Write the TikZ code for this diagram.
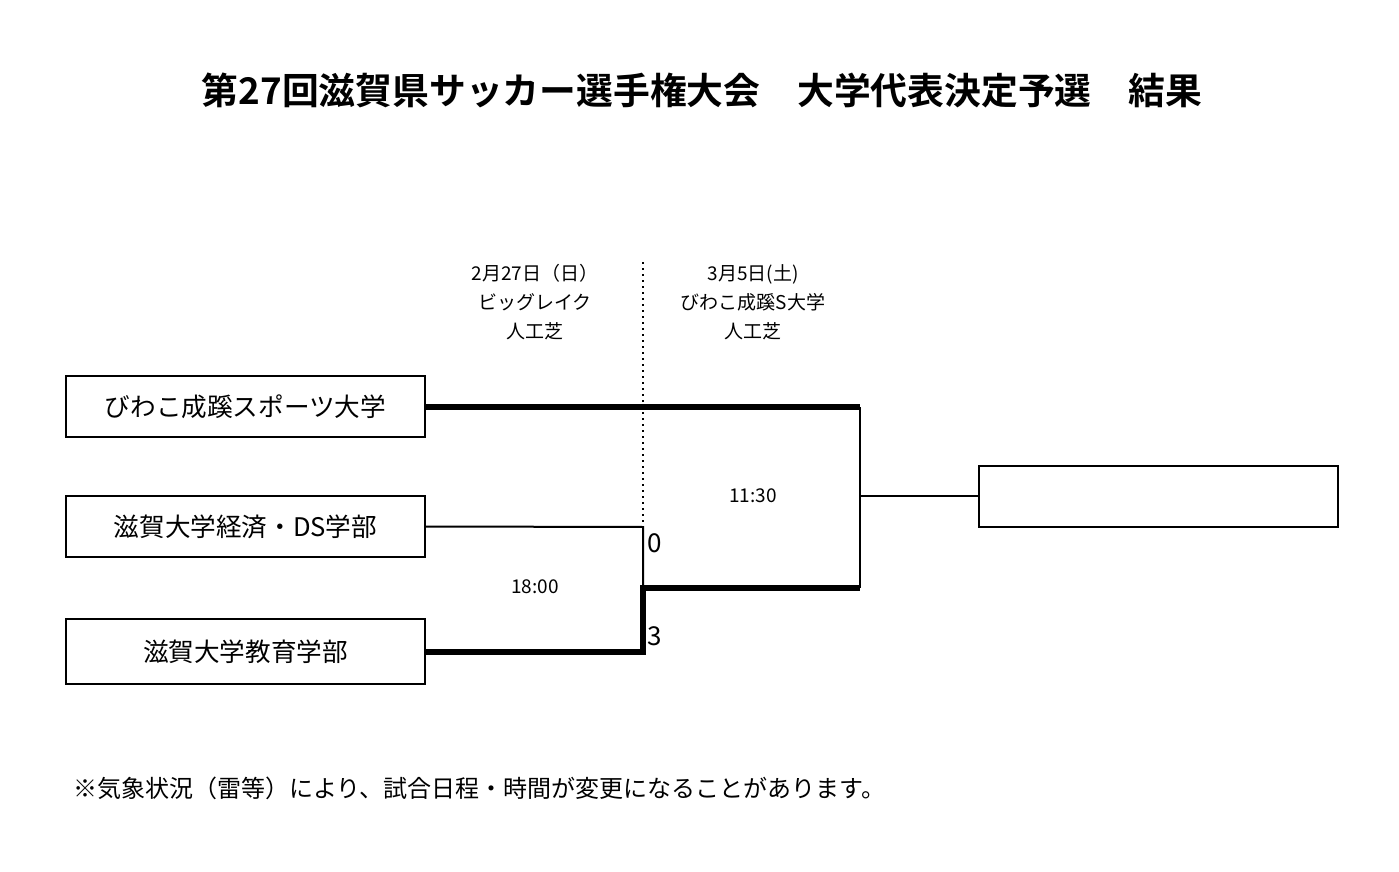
\documentclass[tikz,border=0pt]{standalone}
\usepackage{fontspec}
\setmainfont{Noto Sans CJK JP}[BoldFont={Noto Sans CJK JP Bold}]
\usetikzlibrary{positioning}

\begin{document}
\begin{tikzpicture}[x=0.5pt,y=-0.5pt,
		team/.style={draw,line width=1pt,minimum width=179.5pt,minimum height=30.5pt,inner sep=0pt,font=\fontsize{12.8}{14}\selectfont},
		win/.style={line width=2.6pt},
		lose/.style={line width=1pt},
		info/.style={align=center,font=\fontsize{9.5}{14.5}\selectfont},
		score/.style={font=\fontsize{13}{13}\selectfont,inner sep=0pt}]
	\useasboundingbox (0,0) rectangle (1399,872);
	\node[font=\bfseries\fontsize{18.4}{19}\selectfont] (title) at (702,90)
		{第27回滋賀県サッカー選手権大会\hspace{1em}大学代表決定予選\hspace{1em}結果};
	% teams
	\foreach \n/\y/\h/\l in {
			1/406.5/61/びわこ成蹊スポーツ大学,
			2/526.5/61/滋賀大学経済・DS学部,
			3/651.5/65/滋賀大学教育学部
			} {
		\node[team,minimum height=\h*0.5pt] (t\n) at (245.5,\y) {\l};
	};
	\node[team] (champ) at (1158,496) {};
	% bracket
	\coordinate (a) at (643,527);
	\coordinate (b) at (643,652);
	\coordinate (c) at (643,588);
	\coordinate (d) at (860,588);
	\coordinate (e) at (860,407);
	\coordinate (f) at (860,496);
	\coordinate (top) at (643,262);
	\draw[dotted,line width=1pt] (top) -- (a);
	\draw[lose] (t2.east) -- (a) -- (c);
	\draw[win] (t3.east |- b) -- (b) -- (c) -- (d);
	\draw[win] (t1.east |- e) -- (e);
	\draw[lose] (e) -- (d);
	\draw[lose] (f) -- (champ.west);
	% scores
	\node[score,anchor=west] (s2) at (647,543) {0};
	\node[score,anchor=west] (s3) at (647,636) {3};
	\node[info] (k1) at (535,587) {18:00};
	\node[info] (k2) at (753,496) {11:30};
	% venues
	\node[info] (v1) at (535,302) {2月27日（日）\\ビッグレイク\\人工芝};
	\node[info] (v2) at (753,302) {3月5日(土)\\びわこ成蹊S大学\\人工芝};
	\node[anchor=west,font=\fontsize{12}{12}\selectfont] (note) at (66,788)
		{※気象状況（雷等）により、試合日程・時間が変更になることがあります。};
\end{tikzpicture}
\end{document}
